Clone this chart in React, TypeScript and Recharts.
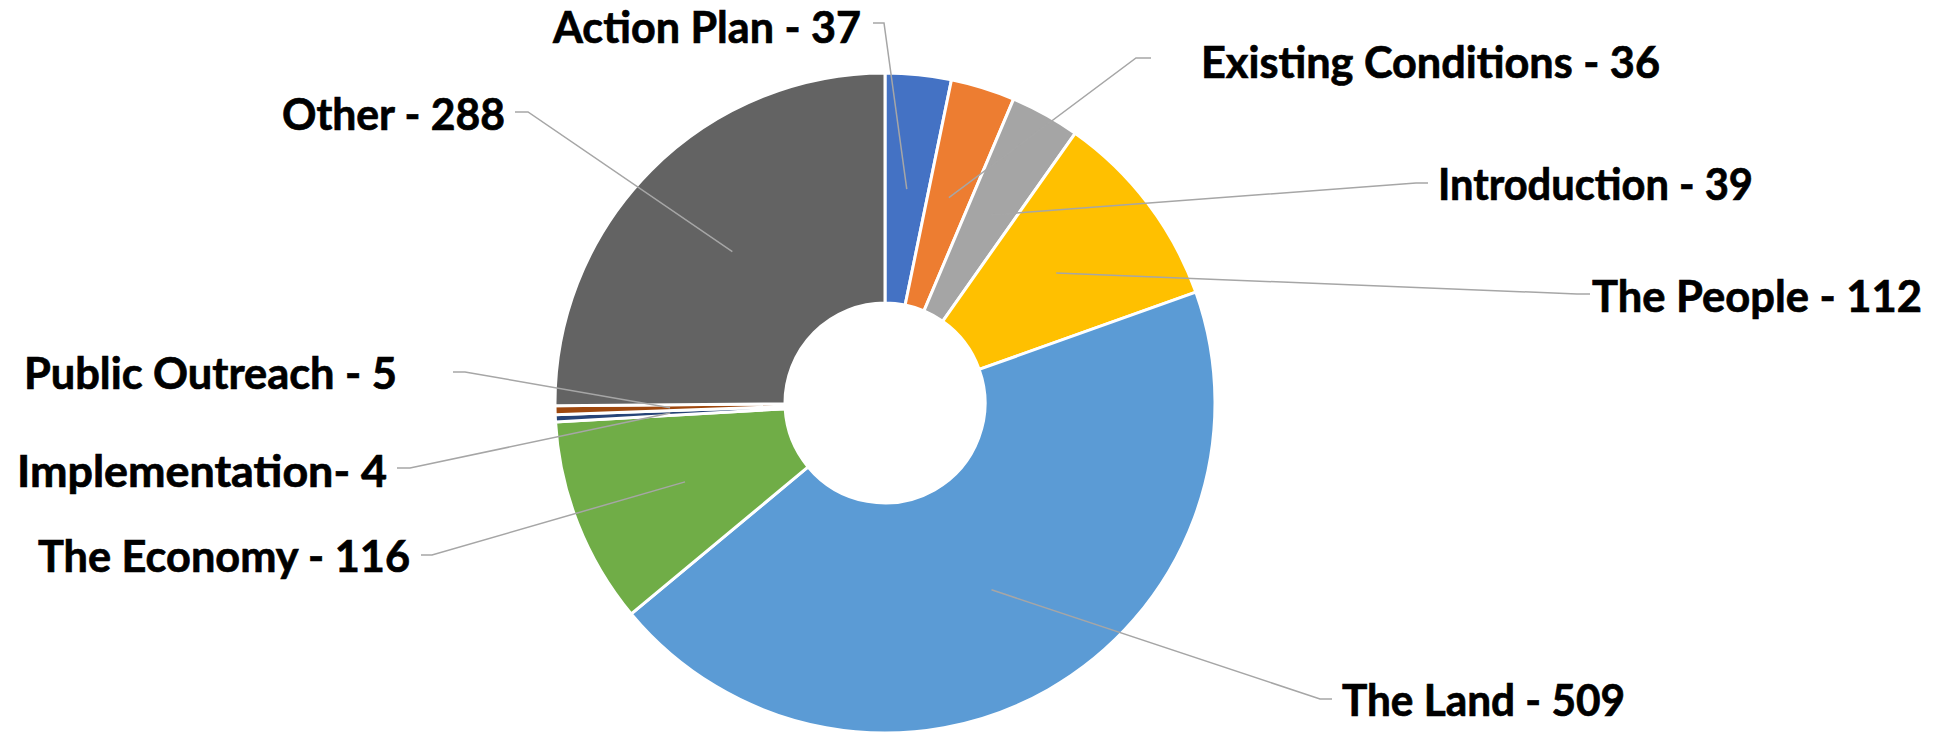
import React from 'react';
import { PieChart, Pie, Cell } from 'recharts';

const categories = [
  'Action Plan',
  'Existing Conditions',
  'Introduction',
  'The People',
  'The Land',
  'The Economy',
  'Implementation',
  'Public Outreach',
  'Other',
];
const values = [37, 36, 39, 112, 509, 116, 4, 5, 288];
const labelTexts = [
  'Action Plan - 37',
  'Existing Conditions - 36',
  'Introduction - 39',
  'The People - 112',
  'The Land - 509',
  'The Economy - 116',
  'Implementation- 4',
  'Public Outreach - 5',
  'Other - 288',
];
const colors = ['#4472C4', '#ED7D31', '#A5A5A5', '#FFC000', '#5B9BD5', '#70AD47', '#264478', '#9E480E', '#636363'];

const data = categories.map((name, i) => ({ name, value: values[i] }));

// hand-placed labels, page px: elbow (ex, ey), tail end tx, text x / baseline y, anchor, text width
const labelLayout = [
  { ex: 884, ey: 23, tx: 873, x: 861, y: 43, anchor: 'end', w: 308 },
  { ex: 1136, ey: 58, tx: 1151, x: 1201, y: 78, anchor: 'start', w: 459 },
  { ex: 1416, ey: 183, tx: 1428, x: 1438, y: 200, anchor: 'start', w: 315 },
  { ex: 1577, ey: 294, tx: 1590, x: 1592, y: 312, anchor: 'start', w: 330 },
  { ex: 1320, ey: 699, tx: 1332, x: 1342, y: 716, anchor: 'start', w: 283 },
  { ex: 432, ey: 555, tx: 421, x: 410, y: 572, anchor: 'end', w: 372 },
  { ex: 410, ey: 468, tx: 397, x: 387, y: 487, anchor: 'end', w: 370 },
  { ex: 465, ey: 372, tx: 453, x: 397, y: 389, anchor: 'end', w: 373 },
  { ex: 528, ey: 112, tx: 515, x: 505, y: 130, anchor: 'end', w: 223 },
];

const RAD = Math.PI / 180;

const renderLabel = (props: any) => {
  const { cx, cy, midAngle, innerRadius, outerRadius, index } = props;
  const r = (innerRadius + outerRadius) / 2;
  const px = cx + r * Math.cos(-midAngle * RAD);
  const py = cy + r * Math.sin(-midAngle * RAD);
  const L = labelLayout[index];
  return (
    <g key={'lbl-' + index}>
      <polyline
        points={`${px},${py} ${L.ex},${L.ey} ${L.tx},${L.ey}`}
        fill="none"
        stroke="#A6A6A6"
        strokeWidth={1.5}
      />
      <text
        x={L.x}
        y={L.y}
        textAnchor={L.anchor}
        fontFamily="Lato, 'Open Sans', sans-serif"
        fontWeight={700}
        fontSize={44}
        textLength={L.w}
        lengthAdjust="spacingAndGlyphs"
        fill="#000"
        stroke="#000"
        strokeWidth={0.7}
      >
        {labelTexts[index]}
      </text>
    </g>
  );
};

const App: React.FC = () => {
  return (
    <div style={{ position: 'absolute', left: 0, top: 0, width: 1947, height: 735, background: '#fff' }}>
      <PieChart width={1947} height={735} margin={{ top: 0, right: 0, bottom: 0, left: 0 }}>
        <Pie
          data={data}
          dataKey="value"
          nameKey="name"
          cx={885}
          cy={403}
          innerRadius={100}
          outerRadius={330}
          startAngle={90}
          endAngle={-270}
          stroke="#fff"
          strokeWidth={3}
          label={renderLabel}
          labelLine={false}
          isAnimationActive={false}
        >
          {data.map((d, i) => (
            <Cell key={d.name} fill={colors[i]} />
          ))}
        </Pie>
      </PieChart>
    </div>
  );
};

export default App;
